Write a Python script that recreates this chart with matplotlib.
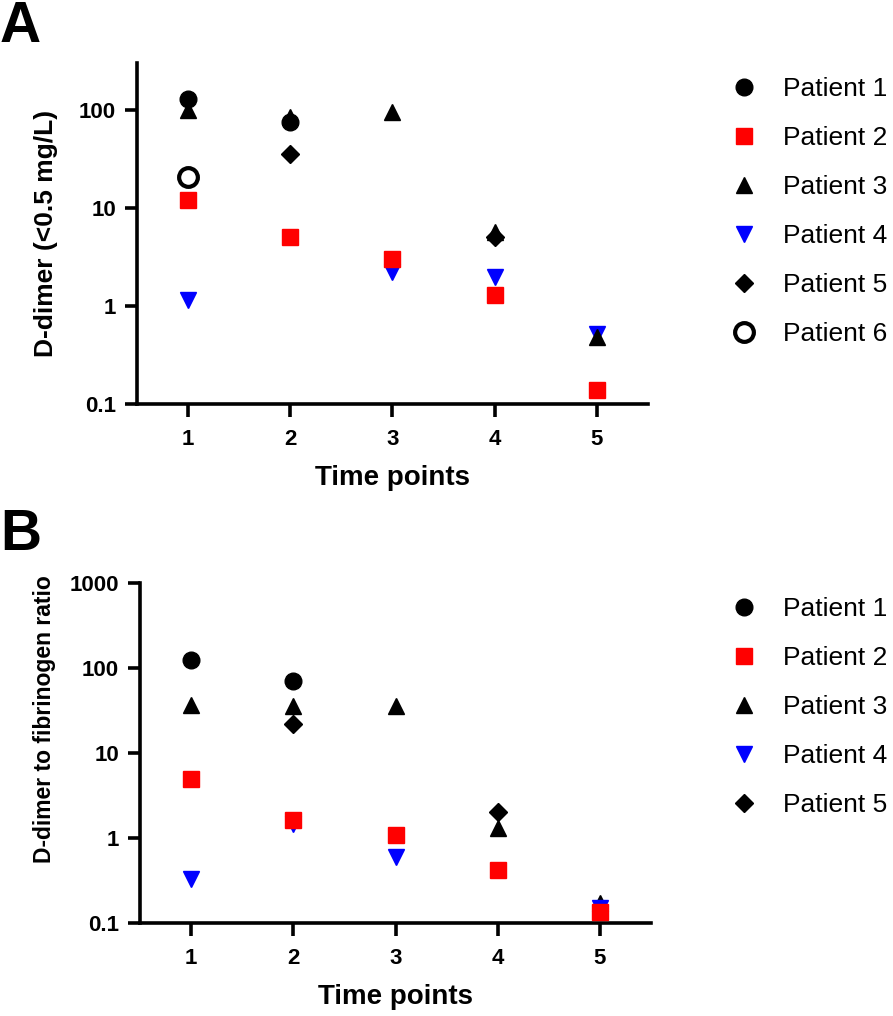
import numpy as np
import matplotlib.pyplot as plt

plt.rcParams['font.family'] = ['Liberation Sans', 'DejaVu Sans']

time_points = [1, 2, 3, 4, 5]
nan = np.nan

# panel A: D-dimer (mg/L), one list per patient, nan = not measured / not shown
ddimer_p1 = [129, 75, nan, nan, nan]
ddimer_p2 = [12.1, 5.0, 3.0, 1.3, 0.14]
ddimer_p3 = [100, 85, 96, 5.7, 0.48]
ddimer_p4 = [1.15, nan, 2.2, 1.96, 0.52]
ddimer_p5 = [nan, 35, nan, 5.1, nan]
ddimer_p6 = [20.6, nan, nan, nan, nan]

# panel B: D-dimer to fibrinogen ratio
ratio_p1 = [123, 70, nan, nan, nan]
ratio_p2 = [4.9, 1.65, 1.1, 0.42, 0.135]
ratio_p3 = [37, 36, 36, 1.3, 0.17]
ratio_p4 = [0.33, 1.45, 0.6, nan, 0.15]
ratio_p5 = [nan, 22, nan, 2.0, nan]

labels = ['Patient 1', 'Patient 2', 'Patient 3', 'Patient 4', 'Patient 5', 'Patient 6']

styles = [
    dict(marker='o', color='black', ms=12),
    dict(marker='s', color='#ff0000', ms=12),
    dict(marker='^', color='black', ms=12),
    dict(marker='v', color='#0000ff', ms=12),
    dict(marker='D', color='black', ms=9),
    dict(marker='o', color='black', ms=13.5, mfc='white', mew=3),
]

fig = plt.figure(figsize=(8.93, 10.16), dpi=100)


def panel(rect, series, zorders, ylim, yticks, ylabel, ylabel_size, ylabel_xy, leg_y):
    ax = fig.add_axes(rect)
    handles = []
    for i, vals in enumerate(series):
        h, = ax.plot(time_points, vals, linestyle='none', zorder=zorders[i],
                     clip_on=False, label=labels[i], **styles[i])
        handles.append(h)
    ax.set_yscale('log')
    ax.set_ylim(*ylim)
    ax.set_xlim(0.5, 5.5)
    ax.set_xticks(time_points)
    ax.set_yticks(yticks)
    ax.set_yticklabels([f'{v:g}' for v in yticks])
    ax.minorticks_off()
    for s in ['top', 'right']:
        ax.spines[s].set_visible(False)
    for s in ['left', 'bottom']:
        ax.spines[s].set_linewidth(2.6)
    ax.tick_params(width=2.6, length=9, labelsize=16)
    ax.tick_params(axis='x', pad=9)
    ax.tick_params(axis='y', pad=6)
    for t in ax.get_xticklabels() + ax.get_yticklabels():
        t.set_fontweight('bold')
    ax.set_xlabel('Time points', fontsize=20, fontweight='bold', labelpad=11)
    ax.set_ylabel(ylabel, fontsize=ylabel_size, fontweight='bold')
    ax.yaxis.set_label_coords(*ylabel_xy)
    fig.legend(handles=handles, loc='upper left', bbox_to_anchor=(0.818, leg_y),
               frameon=False, fontsize=19, handlelength=1.0, handletextpad=1.0,
               labelspacing=0.95, borderpad=0, borderaxespad=0)
    return ax


panel([0.1534, 0.6024, 0.5722, 0.3356],
      [ddimer_p1, ddimer_p2, ddimer_p3, ddimer_p4, ddimer_p5, ddimer_p6],
      [10, 9, 8, 7, 6, 5], (0.1, 300), [0.1, 1, 10, 100],
      'D-dimer (<0.5 mg/L)', 19, (-0.155, 0.5), 1 - 77 / 1016)

panel([0.1568, 0.0915, 0.5722, 0.3346],
      [ratio_p1, ratio_p2, ratio_p3, ratio_p4, ratio_p5],
      [10, 9, 7, 8, 6], (0.1, 1000), [0.1, 1, 10, 100, 1000],
      'D-dimer to fibrinogen ratio', 16.5, (-0.165, 0.6), 1 - 597 / 1016)

fig.text(0.0, 1.0, 'A', fontsize=41, fontweight='bold', ha='left', va='top')
fig.text(0.0, 1 - 508 / 1016, 'B', fontsize=41, fontweight='bold', ha='left', va='top')

fig.savefig('out.png', dpi=100)
